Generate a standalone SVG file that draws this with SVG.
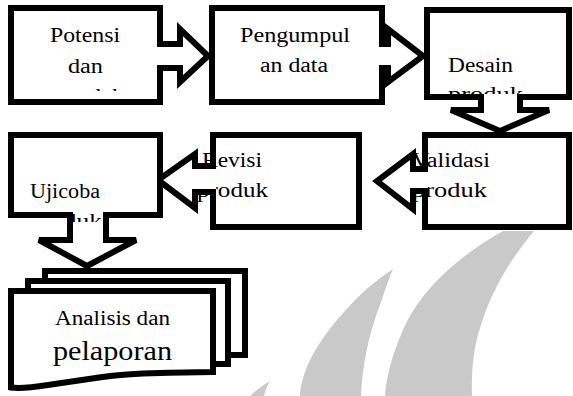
<svg xmlns="http://www.w3.org/2000/svg" width="573" height="396" viewBox="0 0 573 396">
<style>
.box{fill:#fff;stroke:#000;stroke-width:6;stroke-linejoin:miter}
.arr{fill:#fff;stroke:#000;stroke-width:6;stroke-linejoin:miter;stroke-linecap:butt}
.wm{fill:#c9c9c9}
text{font-family:'Liberation Serif',serif;font-size:20px;fill:#000}
.big{font-size:27px}
</style>
<defs>
<clipPath id="clipA"><rect x="0" y="0" width="573" height="91"/></clipPath>
<clipPath id="clipB"><rect x="0" y="0" width="573" height="94"/></clipPath>
<clipPath id="clipC"><rect x="73" y="200" width="30" height="22"/></clipPath>
</defs>
<rect width="573" height="396" fill="#fff"/>
<g id="watermark">
<path class="wm" d="M503,231 C460,255 420,290 403,330 C392,355 386,378 385,396 L472,396 C471,370 474,345 481,325 C490,295 508,262 534,231 Z"/>
<path class="wm" d="M393,269 C360,290 325,330 310,360 C303,375 300,388 300,396 L361,396 C362,370 368,335 380,305 C384,293 388,281 393,269 Z"/>
<path class="wm" d="M270,381 C262,386 255,391 250,396 L264,396 C265,391 267,386 270,381 Z"/>
</g>
<g id="potensi">
<rect class="box" x="11" y="8" width="149" height="94"/>
<text x="50" y="42" textLength="70" lengthAdjust="spacingAndGlyphs">Potensi</text>
<text x="68" y="73" textLength="35" lengthAdjust="spacingAndGlyphs">dan</text>
<text x="47" y="103" textLength="77" lengthAdjust="spacingAndGlyphs" clip-path="url(#clipA)">masalah</text>
</g>
<g id="pengumpulan">
<rect class="box" x="212" y="8" width="170" height="94"/>
<text x="240" y="42" textLength="110" lengthAdjust="spacingAndGlyphs">Pengumpul</text>
<text x="260" y="72" textLength="68" lengthAdjust="spacingAndGlyphs">an data</text>
</g>
<g id="desain">
<rect class="box" x="427" y="10" width="142" height="87"/>
<text x="448" y="72" textLength="65" lengthAdjust="spacingAndGlyphs">Desain</text>
<text x="448" y="101" textLength="75" lengthAdjust="spacingAndGlyphs" clip-path="url(#clipB)">produk</text>
</g>
<g id="validasi">
<rect class="box" x="425" y="135" width="144" height="92"/>
<text x="412" y="167" textLength="78" lengthAdjust="spacingAndGlyphs">Validasi</text>
<text x="412" y="197" textLength="75" lengthAdjust="spacingAndGlyphs">produk</text>
</g>
<g id="revisi">
<rect class="box" x="213" y="135" width="146" height="92"/>
<text x="202" y="167" textLength="60" lengthAdjust="spacingAndGlyphs">Revisi</text>
<text x="197" y="197" textLength="71" lengthAdjust="spacingAndGlyphs">produk</text>
</g>
<g id="analisis">
<rect class="box" x="45" y="271" width="200" height="84"/>
<rect class="box" x="28" y="281" width="200" height="83"/>
<path class="box" d="M11,291 L213,291 L213,372 C196,372 178,372.5 160,373 C136,373.5 116,375 99,377.5 C81,380 64,382.5 48,385 C32,387.5 21,389 11,387.5 Z"/>
<text x="55" y="325" textLength="115" lengthAdjust="spacingAndGlyphs">Analisis dan</text>
<text class="big" x="53" y="360" textLength="119" lengthAdjust="spacingAndGlyphs">pelaporan</text>
</g>
<g id="connectors">
<path class="arr" d="M157,44 L180,44 L180,29 L208,56 L180,82 L180,68 L157,68"/>
<path class="arr" d="M379,44 L388,44 L388,29 L423,56 L388,82 L388,68 L379,68"/>
<path class="arr" d="M481,94 L481,110 L451,110 L500,131 L549,110 L520,110 L520,94"/>
<path class="arr" d="M428,169 L413,169 L413,154 L377,181 L413,209 L413,191 L428,191"/>
<path class="arr" d="M216,166 L195,166 L195,154 L158,180 L195,208 L195,192 L216,192"/>
<path class="arr" d="M70,212 L70,240 L39,240 L87,266 L136,240 L106,240 L106,212"/>
</g>
<g id="ujicoba">
<path class="box" d="M73,215 L11,215 L11,135 L160,135 L160,215 L103,215"/>
<text x="30" y="198" textLength="70" lengthAdjust="spacingAndGlyphs">Ujicoba</text>
<text x="30" y="228" textLength="72" lengthAdjust="spacingAndGlyphs" clip-path="url(#clipC)">produk</text>
</g>
</svg>
